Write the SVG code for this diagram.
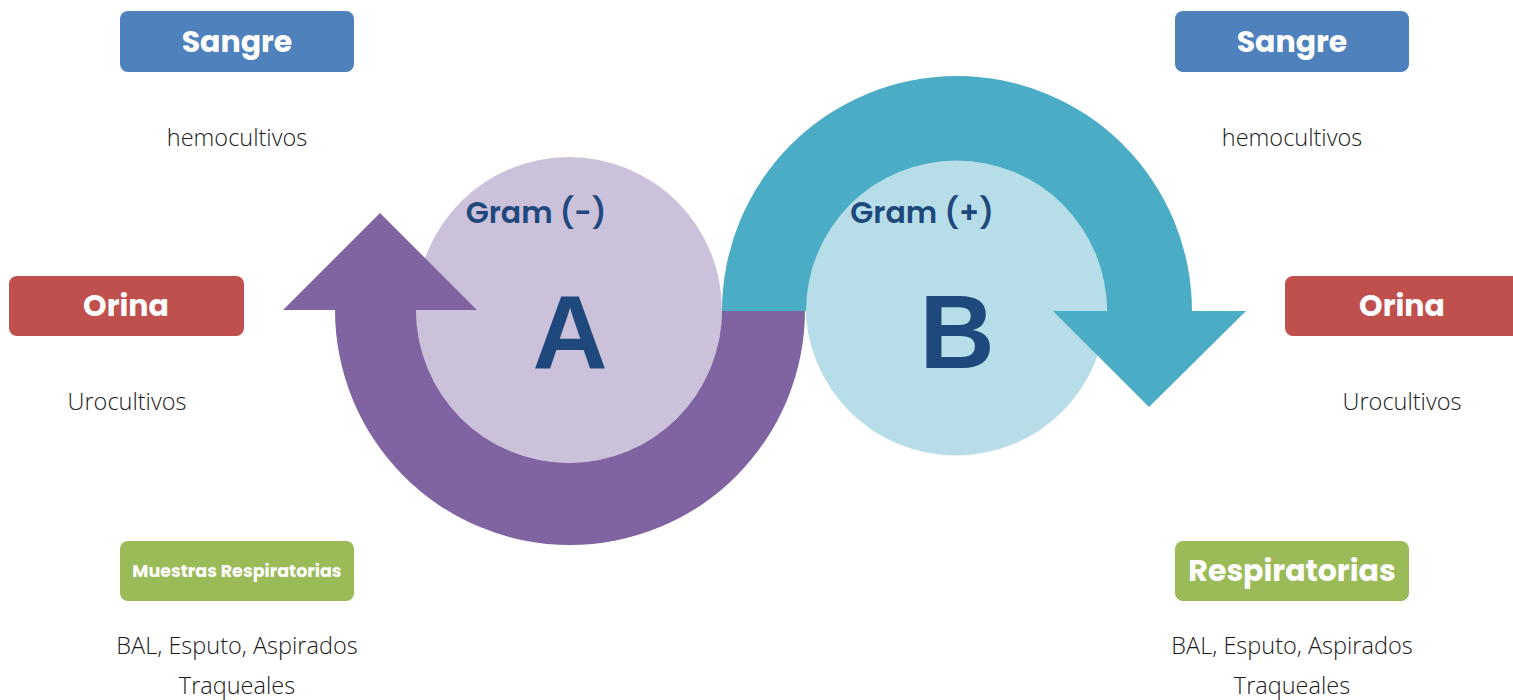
<svg xmlns="http://www.w3.org/2000/svg" width="1513" height="700" viewBox="0 0 1513 700">
<style>
.box-blue{fill:#4F81BD}
.box-red{fill:#C0504D}
.box-green{fill:#9BBB59}
.lbl{font-family:Poppins,"Open Sans","Liberation Sans",sans-serif;font-weight:700;fill:#FFFFFF;text-anchor:middle}
.body{font-family:"Open Sans","Liberation Sans",sans-serif;font-weight:300;font-size:23.5px;fill:#1A1A1A;text-anchor:middle}
.gram{font-family:Poppins,"Open Sans","Liberation Sans",sans-serif;font-weight:600;font-size:30px;fill:#1F497D;text-anchor:middle}
.big{font-family:"Liberation Sans",Arial,sans-serif;font-weight:700;font-size:104px;fill:#1F497D;text-anchor:middle}
</style>
<rect width="1513" height="700" fill="#FFFFFF"/>
<g id="circle-A"><circle cx="569" cy="310" r="153" fill="#CCC1DA"/></g>
<g id="circle-B"><circle cx="956" cy="305" r="150.5" fill="#B7DEE8"/></g>
<g id="connectors">
<path d="M335 310 A235 235 0 0 0 805 310 L722 310 A153 153 0 0 1 416 310 Z" fill="#8064A2"/>
<polygon points="283,310 477,310 380,213" fill="#8064A2"/>
<path d="M722 311 A235 235 0 0 1 1192 311 L1107 311 A150.5 150.5 0 0 0 806 311 Z" fill="#4BACC6"/>
<polygon points="1053,311 1246,311 1149,407" fill="#4BACC6"/>
</g>
<g id="label-A">
<text class="gram" x="536" y="223">Gram (-)</text>
<text class="big" x="570" y="368">A</text>
</g>
<g id="label-B">
<text class="gram" x="922" y="223">Gram (+)</text>
<text class="big" x="957" y="368">B</text>
</g>
<g id="sangre-left">
<rect class="box-blue" x="120" y="11" width="234" height="61" rx="8"/>
<text class="lbl" x="237" y="52" font-size="30">Sangre</text>
<text class="body" x="237" y="146">hemocultivos</text>
</g>
<g id="orina-left">
<rect class="box-red" x="9" y="276" width="235" height="60" rx="8"/>
<text class="lbl" x="126" y="316" font-size="30">Orina</text>
<text class="body" x="127" y="410">Urocultivos</text>
</g>
<g id="resp-left">
<rect class="box-green" x="120" y="541" width="234" height="60" rx="8"/>
<text class="lbl" x="237" y="577" font-size="17.5" font-weight="600">Muestras Respiratorias</text>
<text class="body" x="237" y="654">BAL, Esputo, Aspirados</text>
<text class="body" x="237" y="694">Traqueales</text>
</g>
<g id="sangre-right">
<rect class="box-blue" x="1175" y="11" width="234" height="61" rx="8"/>
<text class="lbl" x="1292" y="52" font-size="30">Sangre</text>
<text class="body" x="1292" y="146">hemocultivos</text>
</g>
<g id="orina-right">
<rect class="box-red" x="1285" y="276" width="240" height="60" rx="8"/>
<text class="lbl" x="1402" y="316" font-size="30">Orina</text>
<text class="body" x="1402" y="410">Urocultivos</text>
</g>
<g id="resp-right">
<rect class="box-green" x="1175" y="541" width="234" height="60" rx="8"/>
<text class="lbl" x="1292" y="581" font-size="30">Respiratorias</text>
<text class="body" x="1292" y="654">BAL, Esputo, Aspirados</text>
<text class="body" x="1292" y="694">Traqueales</text>
</g>
</svg>
